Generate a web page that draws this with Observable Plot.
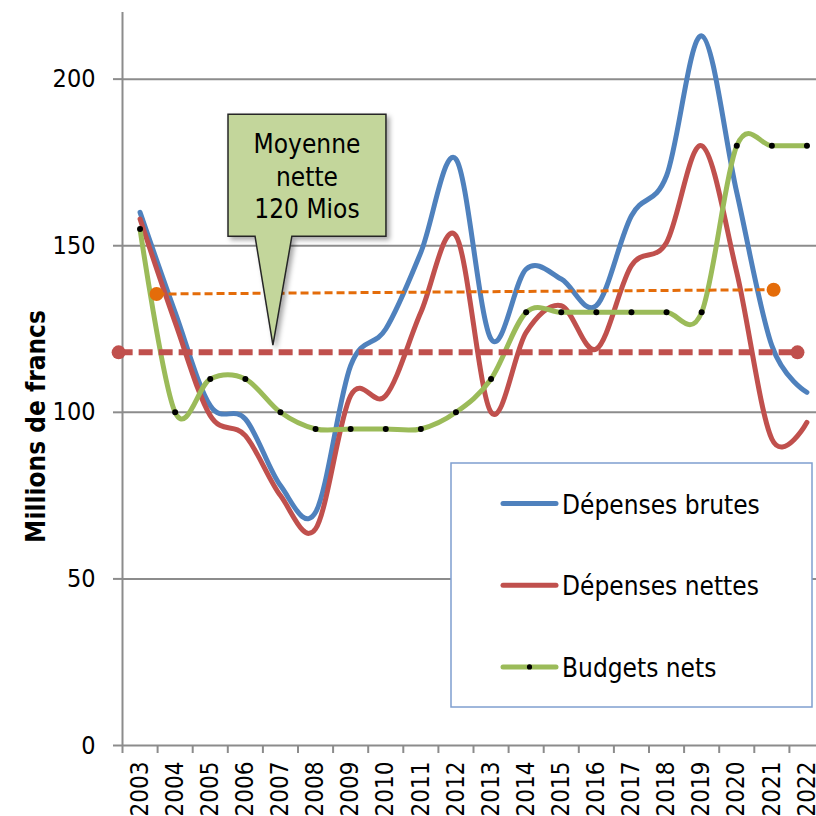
<!DOCTYPE html>
<html><head><meta charset="utf-8">
<script src="https://cdn.jsdelivr.net/npm/d3@7"></script>
<script src="https://cdn.jsdelivr.net/npm/@observablehq/plot@0.6"></script>
<style>
body{margin:0;background:#fff;}
#chart{position:relative;width:816px;height:816px;overflow:hidden;}
</style></head><body><div id="chart"></div>
<script>
// ---- data ----
const years = [2003,2004,2005,2006,2007,2008,2009,2010,2011,2012,2013,2014,2015,2016,2017,2018,2019,2020,2021,2022];
const depensesBrutes = [160,130,102,98,78,70,114,125,148,176,122,143,140,132,159,171,213,166,120,106];
const depensesNettes = [158,127,99,93,75,65,105,105,130,153,100,124,132,119,144,151,180,142,92,97];
const budgetsNets    = [155,100,110,110,100,95,95,95,95,100,110,130,130,130,130,130,130,180,180,180];
const seriesNames = ["Dépenses brutes","Dépenses nettes","Budgets nets"];
const yTicks = [0,50,100,150,200];
const yLabel = "Millions de francs";
const calloutLines = ["Moyenne","nette","120 Mios"];
// reference lines (data coordinates: year, value)
const trendLine = {x1:2003.47, y1:135.5, x2:2021.05, y2:136.8};
const meanLine  = {x1:2002.39, y1:118,   x2:2021.73, y2:118};
// callout anchor (data coordinates)
const callout = {x1:2005.52, x2:2010.02, yLow:152.7, yHigh:189.3, px1:2006.29, px2:2007.34, tipX:2006.8, tipY:120};

// ---- styles ----
const colors = ["#4f81bd","#c0504d","#9bbb59"];
const gridColor = "#8c8c8c";
const font = "'DejaVu Sans Condensed','DejaVu Sans',sans-serif";

const rows = [];
years.forEach((yr,i)=>{
  rows.push({year:yr, value:depensesBrutes[i], series:seriesNames[0]});
  rows.push({year:yr, value:depensesNettes[i], series:seriesNames[1]});
  rows.push({year:yr, value:budgetsNets[i], series:seriesNames[2]});
});
const greenRows = rows.filter(d=>d.series===seriesNames[2]);
const boundaries = d3.range(years.length+1).map(i=>years[0]-0.5+i);

const plot = Plot.plot({
  width:816, height:816,
  marginLeft:122, marginRight:-8, marginTop:12, marginBottom:71,
  style:{fontFamily:font, background:"#fff", color:"#000", overflow:"visible"},
  x:{domain:[years[0]-0.5, years[years.length-1]+0.5], label:null},
  y:{domain:[0,220], label:null},
  color:{domain:seriesNames, range:colors},
  marks:[
    Plot.ruleY(yTicks.filter(d=>d>0), {stroke:gridColor, strokeWidth:2}),
    Plot.ruleX([years[0]-0.5], {y1:0, y2:220, stroke:gridColor, strokeWidth:2}),
    Plot.ruleY([0], {stroke:gridColor, strokeWidth:2}),
    Plot.axisY(yTicks, {tickSize:9, tickPadding:18, fontSize:25, stroke:gridColor, strokeWidth:2, fill:"#000", label:null, tickFormat:d=>String(d)}),
    Plot.axisX(boundaries, {tickSize:8, stroke:gridColor, strokeWidth:2, tickFormat:()=>"", label:null}),
    Plot.axisX(years, {tickSize:0, tickPadding:16, tickRotate:-90, fontSize:24, fill:"#000", label:null, tickFormat:d=>String(d)}),
    Plot.line(rows, {x:"year", y:"value", stroke:"series", z:"series", curve:"cardinal", strokeWidth:5, strokeLinecap:"round", strokeLinejoin:"round"}),
    Plot.dot(greenRows, {x:"year", y:"value", r:3, fill:"#000", stroke:null}),
    Plot.link([trendLine], {x1:"x1", y1:"y1", x2:"x2", y2:"y2", stroke:"#e46c0a", strokeWidth:3, strokeDasharray:"8,4"}),
    Plot.dot([[trendLine.x1,trendLine.y1],[trendLine.x2,trendLine.y2]], {x:d=>d[0], y:d=>d[1], r:7, fill:"#e46c0a"}),
    Plot.link([meanLine], {x1:"x1", y1:"y1", x2:"x2", y2:"y2", stroke:"#c0504d", strokeWidth:6, strokeDasharray:"14,6"}),
    Plot.dot([[meanLine.x1,meanLine.y1],[meanLine.x2,meanLine.y2]], {x:d=>d[0], y:d=>d[1], r:7, fill:"#c0504d"}),
    Plot.text([yLabel], {frameAnchor:"left", textAnchor:"middle", dx:-86, dy:47.5, rotate:-90, fontWeight:"bold", fontSize:26, text:d=>d, fill:"#000"})
  ]
});
document.getElementById("chart").appendChild(plot);

const sx = plot.scale("x").apply, sy = plot.scale("y").apply;
const svg = d3.select(plot);

// callout
const defs = svg.append("defs");
const f = defs.append("filter").attr("id","shadow").attr("x","-20%").attr("y","-20%").attr("width","150%").attr("height","150%");
f.append("feDropShadow").attr("dx",3).attr("dy",3).attr("stdDeviation",2.5).attr("flood-color","#000").attr("flood-opacity",0.35);
const xL = sx(callout.x1), xR = sx(callout.x2), yT = sy(callout.yHigh), yB = sy(callout.yLow);
const path = `M${xL},${yB}L${sx(callout.px1)},${yB}L${sx(callout.tipX)},${sy(callout.tipY)}L${sx(callout.px2)},${yB}L${xR},${yB}L${xR},${yT}L${xL},${yT}Z`;
const cg = svg.append("g");
cg.append("path").attr("d",path).attr("fill","#c3d69b").attr("stroke","#262626").attr("stroke-width",1.5).attr("filter","url(#shadow)");
calloutLines.forEach((t,i)=>{
  cg.append("text").attr("x",(xL+xR)/2).attr("y",yT+39+i*32.5).attr("text-anchor","middle")
    .attr("font-family",font).attr("font-size",26).attr("fill","#000").text(t);
});

// legend
const lg = svg.append("g");
lg.append("rect").attr("x",451).attr("y",463).attr("width",361).attr("height",244)
  .attr("fill","#fff").attr("stroke","#7f9fcf").attr("stroke-width",1.5);
seriesNames.forEach((name,i)=>{
  const y = 503.5 + i*81.7;
  lg.append("line").attr("x1",503).attr("x2",556).attr("y1",y).attr("y2",y)
    .attr("stroke",colors[i]).attr("stroke-width",5).attr("stroke-linecap","round");
  if(i===2) lg.append("circle").attr("cx",529.5).attr("cy",y).attr("r",2.6).attr("fill","#000");
  lg.append("text").attr("x",562).attr("y",y+10).attr("text-anchor","start")
    .attr("font-family",font).attr("font-size",26).attr("fill","#000").text(name);
});
</script></body></html>
